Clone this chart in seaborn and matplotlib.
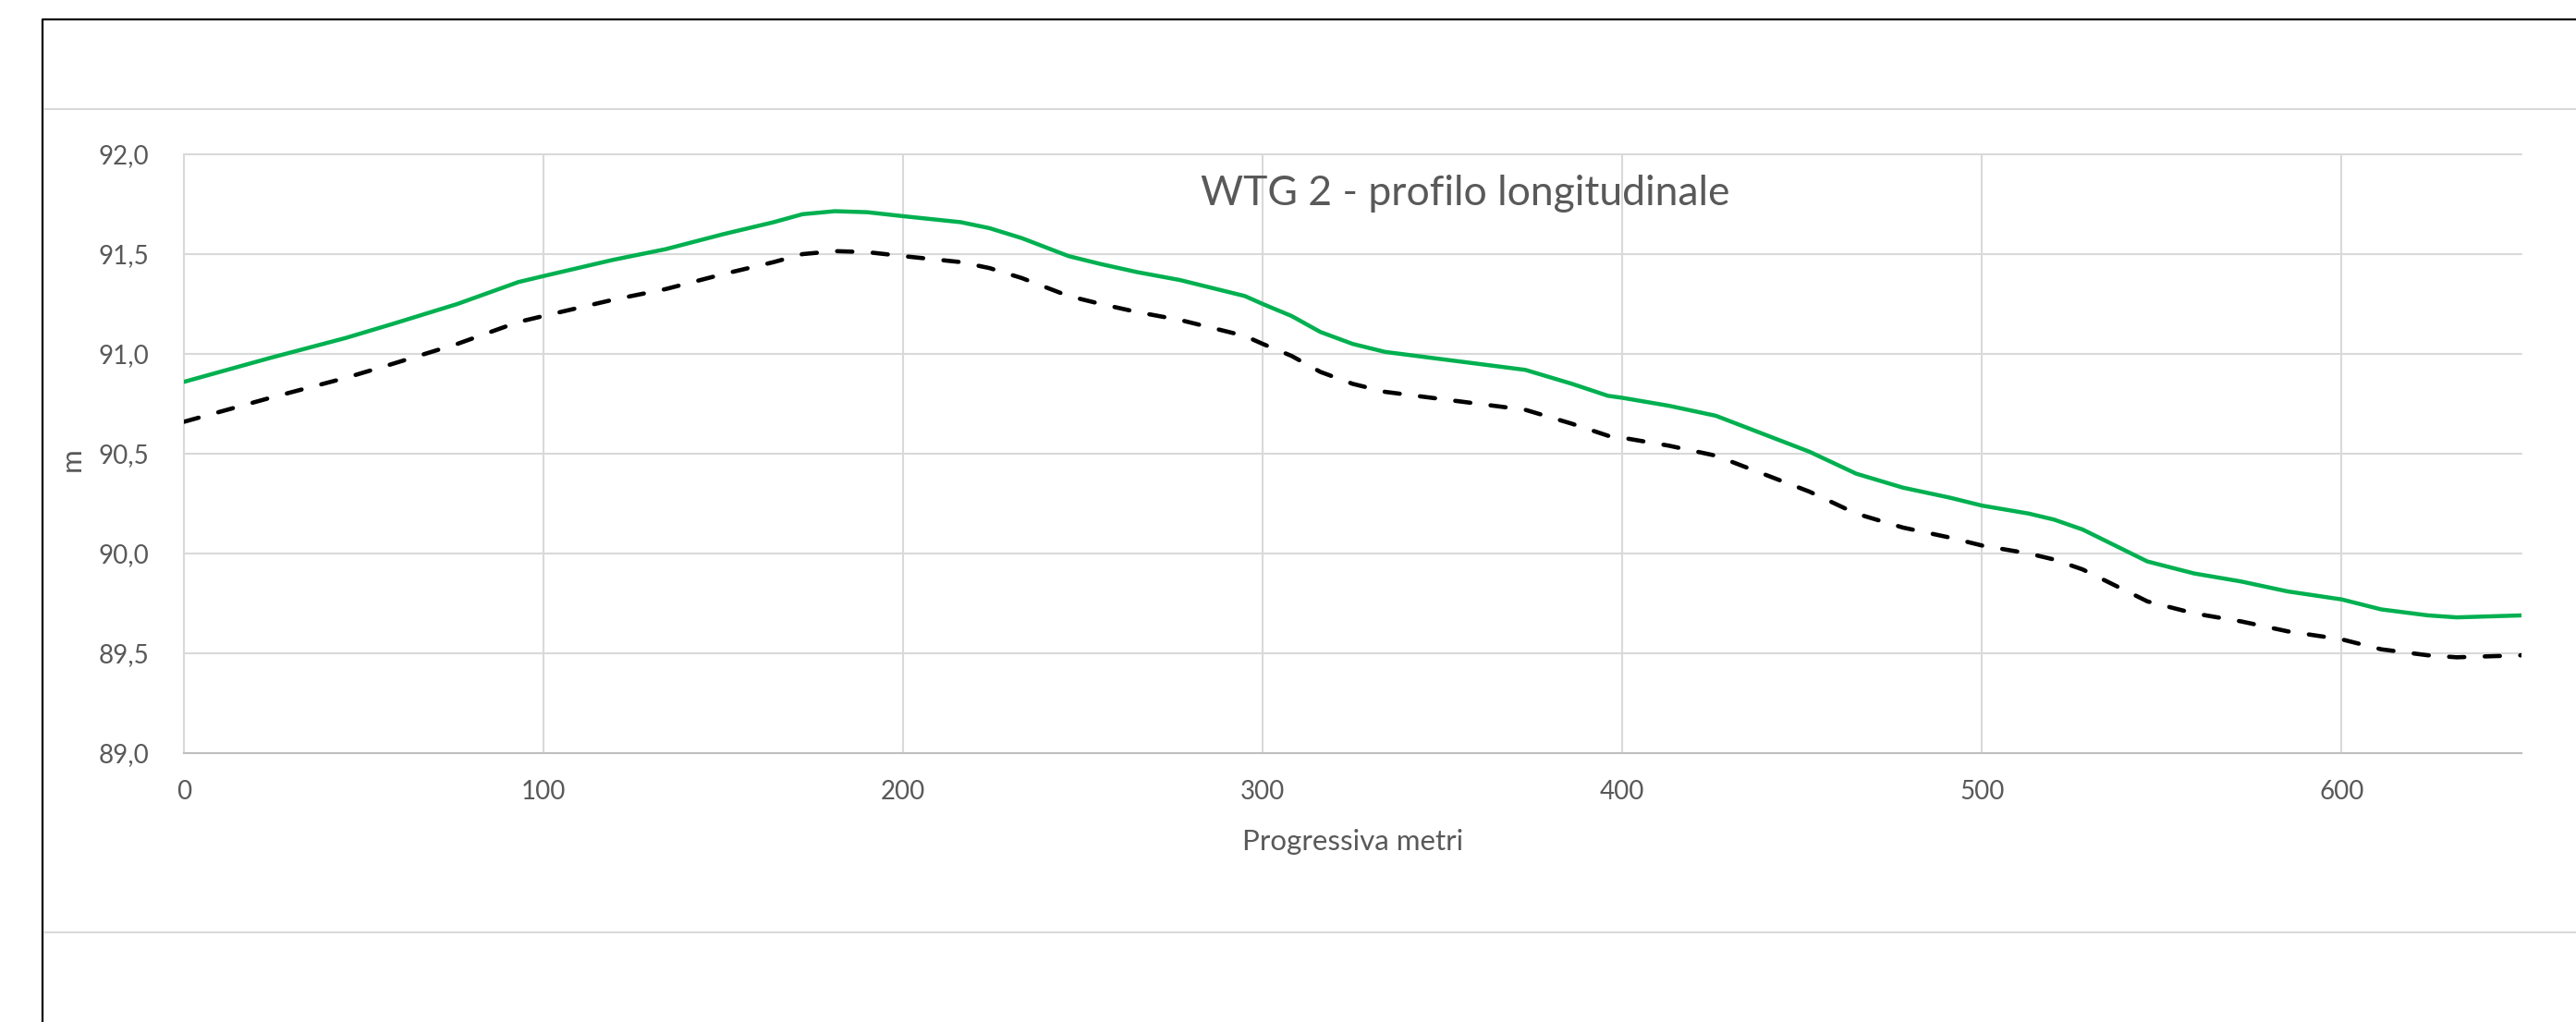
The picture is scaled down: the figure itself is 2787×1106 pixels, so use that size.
import matplotlib
matplotlib.use("Agg")
import matplotlib.pyplot as plt
import seaborn as sns
import pandas as pd
from matplotlib.lines import Line2D

# ---- data ----
progressiva = [0, 24, 45, 58, 76, 93, 100, 119, 134, 150, 164, 172, 181,
               190, 200, 216, 224, 233, 246, 255, 265, 277, 295, 300, 308,
               316, 325, 334, 347, 360, 373, 386, 396, 400, 413, 426, 439,
               452, 465, 478, 491, 500, 513, 520, 528, 537, 546, 559, 572,
               585, 600, 611, 624, 632, 650]
terreno = [90.86, 90.98, 91.08, 91.15, 91.25, 91.36, 91.39, 91.47, 91.525,
           91.60, 91.66, 91.70, 91.715, 91.71, 91.69, 91.66, 91.63, 91.58, 91.49,
           91.45, 91.41, 91.37, 91.29, 91.25, 91.19, 91.11, 91.05, 91.01, 90.98,
           90.95, 90.92, 90.85, 90.79, 90.78, 90.74, 90.69, 90.60, 90.51, 90.40,
           90.33, 90.28, 90.24, 90.20, 90.17, 90.12, 90.04, 89.96, 89.90, 89.86,
           89.81, 89.77, 89.72, 89.69, 89.68, 89.69]
progetto = [90.66, 90.78, 90.88, 90.95, 91.05, 91.16, 91.19, 91.27, 91.325,
            91.40, 91.46, 91.50, 91.515, 91.51, 91.49, 91.46, 91.43, 91.38, 91.29,
            91.25, 91.21, 91.17, 91.09, 91.05, 90.99, 90.91, 90.85, 90.81, 90.78,
            90.75, 90.72, 90.65, 90.59, 90.58, 90.54, 90.49, 90.40, 90.31, 90.20,
            90.13, 90.08, 90.04, 90.00, 89.97, 89.92, 89.84, 89.76, 89.70, 89.66,
            89.61, 89.57, 89.52, 89.49, 89.48, 89.49]
x_ticks = [0, 100, 200, 300, 400, 500, 600]
y_ticks = [89.0, 89.5, 90.0, 90.5, 91.0, 91.5, 92.0]
y_tick_labels = ["89,0", "89,5", "90,0", "90,5", "91,0", "91,5", "92,0"]
title = "WTG 2 - profilo longitudinale"
x_label = "Progressiva metri"
y_label = "m"

# ---- style ----
sns.set_theme(style="white")
plt.rcParams['font.family'] = ['Lato', 'DejaVu Sans']
TEXT = "#595959"
GRID = "#d9d9d9"

W, H = 2787, 1106
fig = plt.figure(figsize=(W / 100, H / 100), dpi=100)
fig.patch.set_facecolor("white")

ax_l, ax_r, ax_t, ax_b = 199, 2728, 167, 815
ax = fig.add_axes([ax_l / W, 1 - ax_b / H, (ax_r - ax_l) / W, (ax_b - ax_t) / H])

df = pd.DataFrame({"progressiva": progressiva, "terreno": terreno, "progetto": progetto})
sns.lineplot(data=df, x="progressiva", y="terreno", ax=ax, color="#00B050",
             linewidth=3.2, zorder=3)
sns.lineplot(data=df, x="progressiva", y="progetto", ax=ax, color="black",
             linewidth=3.3, zorder=3)
for ln in ax.lines:
    ln.set_solid_joinstyle("round")
    ln.set_dash_joinstyle("round")
dash_line = ax.lines[-1]
dash_line.set_dashes([3.6, 4.8])
dash_line.set_dash_capstyle("round")

ax.set_xlim(0, 650)
ax.set_ylim(89, 92)
ax.set_xticks(x_ticks)
ax.set_xticklabels([str(v) for v in x_ticks])
ax.set_yticks(y_ticks)
ax.set_yticklabels(y_tick_labels)

ax.grid(True, color=GRID, linewidth=1.5)
for gl in ax.get_xgridlines() + ax.get_ygridlines():
    gl.set_clip_on(False)
ax.set_axisbelow(True)

for s in ["top", "right", "left"]:
    ax.spines[s].set_visible(False)
ax.spines["bottom"].set_color("#bfbfbf")
ax.spines["bottom"].set_linewidth(1.5)

ax.tick_params(axis="both", length=0, labelcolor=TEXT, labelsize=20)
ax.tick_params(axis="x", pad=21)
ax.tick_params(axis="y", pad=27)

ax.set_xlabel(x_label, fontsize=22.5, color=TEXT)
ax.xaxis.label.set_va("baseline")
ax.xaxis.set_label_coords(0.5, -(920 - ax_b) / (ax_b - ax_t))
ax.set_ylabel(y_label, fontsize=22.5, color=TEXT)
ax.yaxis.label.set_va("baseline")
ax.yaxis.set_label_coords(-(ax_l - 87) / (ax_r - ax_l), 0.49)

ax.set_title(title, fontsize=32, color=TEXT, x=(1585 - ax_l) / (ax_r - ax_l),
             y=(ax_b - 222) / (ax_b - ax_t), pad=0, va="baseline")

# ---- chart-area frame and divider lines ----
fig.add_artist(Line2D([46 / W, 46 / W, 1.0], [0, 1 - 21 / H, 1 - 21 / H],
                      color="black", linewidth=1.6))
fig.add_artist(Line2D([48 / W, 1.0], [1 - 118 / H, 1 - 118 / H], color=GRID, linewidth=1.5))
fig.add_artist(Line2D([48 / W, 1.0], [1 - 1009 / H, 1 - 1009 / H], color=GRID, linewidth=1.5))

fig.savefig("out.png", dpi=100, facecolor="white")
